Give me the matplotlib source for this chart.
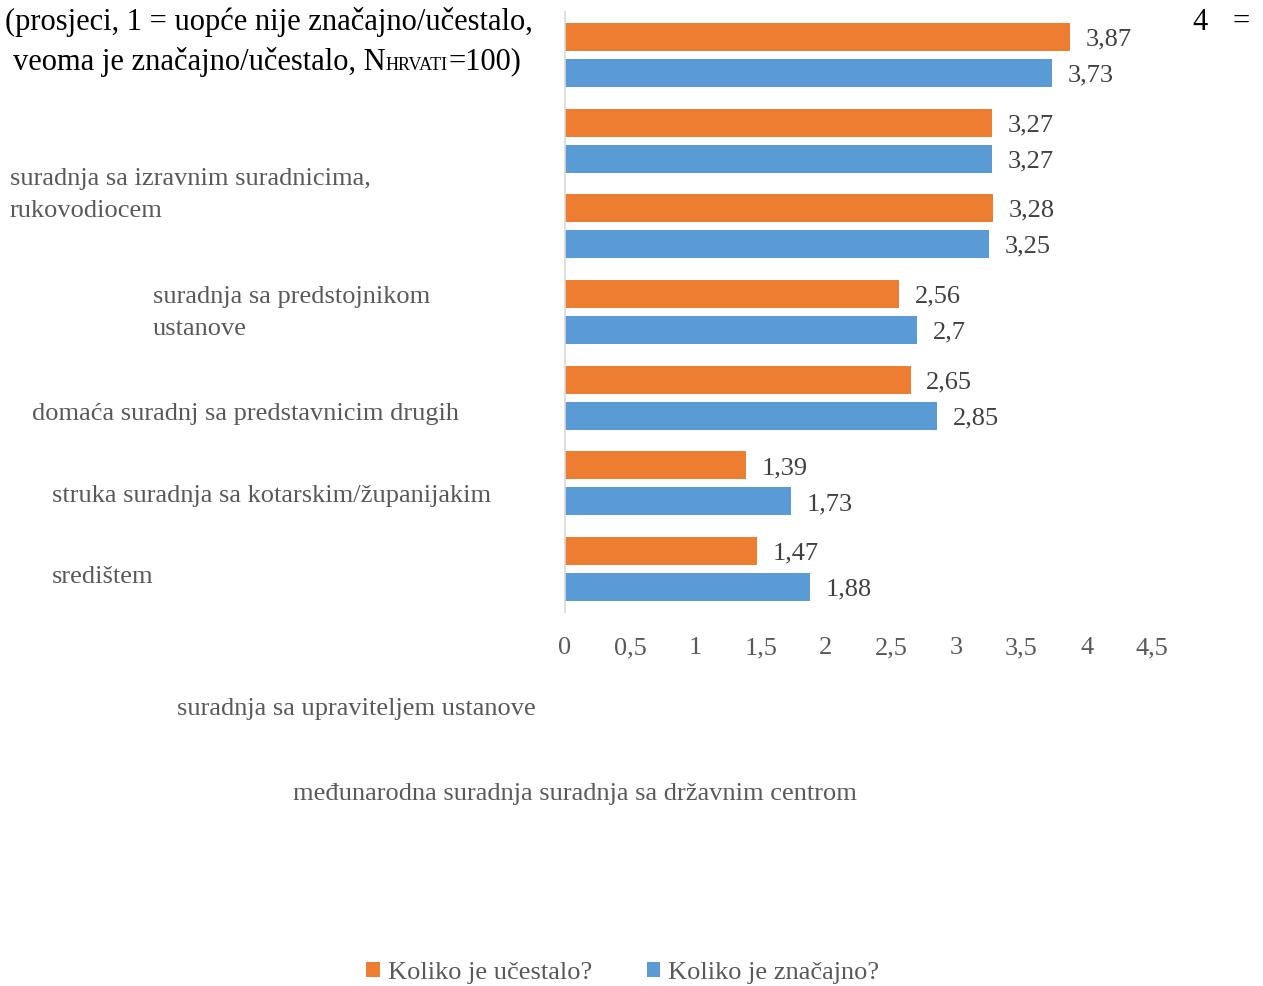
import matplotlib.pyplot as plt
import numpy as np

# podaci (prosjeci), redoslijed odozgo prema dolje
ucestalo = [3.87, 3.27, 3.28, 2.56, 2.65, 1.39, 1.47]
znacajno = [3.73, 3.27, 3.25, 2.70, 2.85, 1.73, 1.88]
x_ticks = [0, 0.5, 1, 1.5, 2, 2.5, 3, 3.5, 4, 4.5]
legend_labels = ['Koliko je učestalo?', 'Koliko je značajno?']

# nazivi kategorija kako su raspoređeni oko grafa
cat_texts = [
    ('suradnja sa izravnim suradnicima,', 10, 179),
    ('rukovodiocem', 10, 211),
    ('suradnja sa predstojnikom', 153, 297),
    ('ustanove', 153, 329),
    ('domaća suradnj sa predstavnicim drugih', 32, 414),
    ('struka suradnja sa kotarskim/županijakim', 52, 496),
    ('središtem', 52, 577),
    ('suradnja sa upraviteljem ustanove', 177, 709),
    ('međunarodna suradnja suradnja sa državnim centrom', 293, 794),
]

ORANGE = '#ED7D31'
BLUE = '#5B9BD5'
GREY = '#595959'
W, H = 1263, 986
FS = 19

plt.rcParams['font.family'] = ['Liberation Serif', 'DejaVu Serif']

fig = plt.figure(figsize=(W / 100, H / 100), dpi=100)
ax = fig.add_axes([565 / W, 1 - 612 / H, (1152 - 565) / W, 600 / H])

y = np.arange(len(ucestalo))
bh = 0.327
off = 0.21
b1 = ax.barh(y - off, ucestalo, height=bh, color=ORANGE)
b2 = ax.barh(y + off, znacajno, height=bh, color=BLUE)

for bars, vals in ((b1, ucestalo), (b2, znacajno)):
    for b, v in zip(bars, vals):
        txt = ('%g' % v).replace('.', ',')
        ax.text(v + 0.12, b.get_y() + b.get_height() / 2 + 0.03, txt, ha='left', va='center',
                fontsize=FS, color='#404040')

ax.set_xlim(0, 4.5)
ax.set_ylim(len(ucestalo) - 0.5, -0.5)
ax.set_xticks(x_ticks)
ax.set_xticklabels([('%g' % t).replace('.', ',') for t in x_ticks], fontsize=FS, color=GREY)
ax.set_yticks([])
ax.tick_params(axis='x', length=0, pad=18)
for s in ['top', 'right', 'bottom']:
    ax.spines[s].set_visible(False)
ax.spines['left'].set_color('#D9D9D9')
ax.spines['left'].set_linewidth(1.2)


def fx(px):
    return px / W


def fy(py):
    return 1 - py / H


# naslov
TS = 22
fig.text(fx(533), fy(22), '(prosjeci, 1 = uopće nije značajno/učestalo,', ha='right', va='center',
         fontsize=TS, color='black')
renderer = fig.canvas.get_renderer()
t_end = fig.text(fx(521), fy(62), '=100)', ha='right', va='center', fontsize=TS, color='black')
x_end = t_end.get_window_extent(renderer).x0
t_sub = fig.text(x_end / W, fy(66), 'HRVATI', ha='right', va='center', fontsize=13, color='black')
x_sub = t_sub.get_window_extent(renderer).x0
fig.text(x_sub / W, fy(62), 'veoma je značajno/učestalo, N', ha='right', va='center',
         fontsize=TS, color='black')
fig.text(fx(1200), fy(22), '4', ha='center', va='center', fontsize=TS, color='black')
fig.text(fx(1241), fy(22), '=', ha='center', va='center', fontsize=TS, color='black')

for t, px, py in cat_texts:
    fig.text(fx(px), fy(py), t, ha='left', va='center', fontsize=FS, color=GREY)

fig.legend([b1, b2], legend_labels, loc='center', bbox_to_anchor=(fx(623), fy(973)), ncol=2,
           frameon=False, prop={'size': FS}, labelcolor=GREY, handlelength=0.5, handleheight=0.5,
           handletextpad=0.3, columnspacing=2.1, borderpad=0)

fig.savefig('out.png', dpi=100)
